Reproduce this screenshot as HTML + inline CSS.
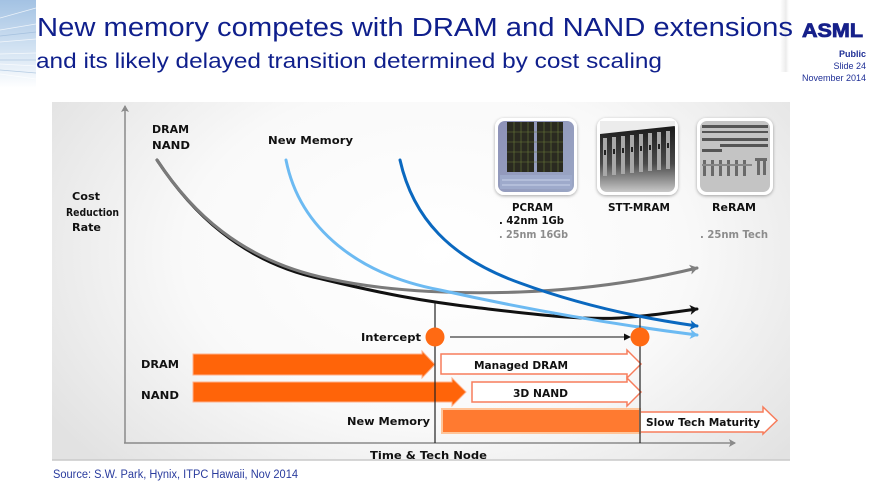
<!DOCTYPE html>
<html><head><meta charset="utf-8"><style>
html,body{margin:0;padding:0;background:#fff;}
svg{display:block;}
.v{font-family:"DejaVu Sans","Liberation Sans",sans-serif;font-weight:bold;fill:#111;}
</style></head><body>
<svg width="880" height="495" viewBox="0 0 880 495" xmlns="http://www.w3.org/2000/svg">
<defs>
<linearGradient id="deco" x1="0" y1="0" x2="0" y2="1">
<stop offset="0" stop-color="#a3c2e3"/><stop offset="0.55" stop-color="#d2e2f2"/><stop offset="1" stop-color="#ffffff"/></linearGradient>
<linearGradient id="shade" x1="0" y1="0" x2="1" y2="0">
<stop offset="0" stop-color="#e2e2e2" stop-opacity="0"/><stop offset="0.6" stop-color="#dedede" stop-opacity="0.6"/><stop offset="1" stop-color="#ffffff" stop-opacity="0"/></linearGradient>
<radialGradient id="panel" cx="0.52" cy="0.42" r="0.62" gradientTransform="translate(0.52 0.42) scale(1 1.4) translate(-0.52 -0.42)">
<stop offset="0" stop-color="#ffffff"/><stop offset="0.55" stop-color="#f9f9f9"/><stop offset="1" stop-color="#e2e2e2"/></radialGradient>
<linearGradient id="stt" x1="0" y1="0" x2="0" y2="1">
<stop offset="0" stop-color="#151515"/><stop offset="0.6" stop-color="#4a4a4a"/><stop offset="1" stop-color="#c8c8c8"/></linearGradient>
<linearGradient id="pc" x1="0" y1="0" x2="1" y2="1">
<stop offset="0" stop-color="#8e92b8"/><stop offset="1" stop-color="#9aa6c4"/></linearGradient>
<filter id="sh" x="-20%" y="-20%" width="140%" height="140%"><feDropShadow dx="0" dy="1" stdDeviation="1.5" flood-color="#000" flood-opacity="0.35"/></filter>
<marker id="mg" markerWidth="10" markerHeight="10" refX="7" refY="5" orient="auto" markerUnits="userSpaceOnUse"><path d="M0,0 L8,5 L0,10 L2,5 Z" fill="#808080"/></marker>
<marker id="mk" markerWidth="10" markerHeight="10" refX="7" refY="5" orient="auto" markerUnits="userSpaceOnUse"><path d="M0,0 L8,5 L0,10 L2,5 Z" fill="#111"/></marker>
<marker id="mb" markerWidth="10" markerHeight="10" refX="7" refY="5" orient="auto" markerUnits="userSpaceOnUse"><path d="M0,0 L8,5 L0,10 L2,5 Z" fill="#0a68bf"/></marker>
<marker id="ml" markerWidth="10" markerHeight="10" refX="7" refY="5" orient="auto" markerUnits="userSpaceOnUse"><path d="M0,0 L8,5 L0,10 L2,5 Z" fill="#6cbaf2"/></marker>
<marker id="ma" markerWidth="8" markerHeight="8" refX="6" refY="4" orient="auto" markerUnits="userSpaceOnUse"><path d="M0,0 L7,4 L0,8 L1.5,4 Z" fill="#8a8a8a"/></marker>
<marker id="mt" markerWidth="8" markerHeight="8" refX="6" refY="4" orient="auto" markerUnits="userSpaceOnUse"><path d="M0,0.5 L7,4 L0,7.5 Z" fill="#111"/></marker>
</defs>

<!-- top-left decoration -->
<rect x="0" y="0" width="36" height="88" fill="url(#deco)"/>
<g stroke="#ffffff" stroke-opacity="0.75" stroke-width="0.8" fill="none">
<line x1="0" y1="18" x2="36" y2="8"/>
<line x1="0" y1="30" x2="36" y2="24"/>
<line x1="0" y1="42" x2="36" y2="39"/>
<line x1="0" y1="54" x2="36" y2="53"/>
<line x1="0" y1="64" x2="36" y2="66"/>
<line x1="0" y1="74" x2="36" y2="79"/>
</g>
<g stroke="#8fb0d4" stroke-opacity="0.6" stroke-width="0.7" fill="none">
<line x1="0" y1="36" x2="36" y2="32"/>
<line x1="0" y1="60" x2="36" y2="60"/>
<line x1="0" y1="70" x2="36" y2="73"/>
</g>
<rect x="780" y="0" width="10" height="72" fill="url(#shade)"/>

<!-- titles -->
<text x="37" y="36" font-family="Liberation Sans, Arial, sans-serif" font-size="25.5" fill="#0f1f8c" textLength="756" lengthAdjust="spacingAndGlyphs">New memory competes with DRAM and NAND extensions</text>
<text x="36" y="68" font-family="Liberation Sans, Arial, sans-serif" font-size="21" fill="#0f1f8c" textLength="626" lengthAdjust="spacingAndGlyphs">and its likely delayed transition determined by cost scaling</text>
<text x="802" y="37" font-family="Liberation Sans, Arial, sans-serif" font-size="19" font-weight="bold" fill="#16208a" stroke="#16208a" stroke-width="0.8" textLength="61" lengthAdjust="spacingAndGlyphs">ASML</text>
<g font-family="Liberation Sans, Arial, sans-serif" font-size="9" fill="#1f2f96" text-anchor="end">
<text x="866" y="57" font-weight="bold">Public</text>
<text x="866" y="69">Slide 24</text>
<text x="866" y="81">November 2014</text>
</g>

<!-- panel -->
<rect x="52" y="102" width="738" height="358" fill="url(#panel)"/>
<line x1="52" y1="460" x2="790" y2="460" stroke="#c9c9c9" stroke-width="1.5"/>

<!-- axes -->
<line x1="125" y1="443" x2="125" y2="106" stroke="#8a8a8a" stroke-width="1.5" marker-end="url(#ma)"/>
<line x1="124" y1="443" x2="735" y2="443" stroke="#8a8a8a" stroke-width="1.5" marker-end="url(#ma)"/>

<!-- images -->
<g filter="url(#sh)">
<rect x="495" y="118" width="82" height="77" rx="9" fill="#fff"/>
<rect x="597" y="118" width="81" height="77" rx="9" fill="#fff"/>
<rect x="697" y="118" width="76" height="77" rx="9" fill="#fff"/>
</g>
<!-- PCRAM -->
<rect x="498" y="121" width="76" height="71" rx="7" fill="url(#pc)"/>
<rect x="507" y="122" width="27" height="50" fill="#2a2a20"/>
<rect x="537" y="122" width="26" height="50" fill="#2a2a20"/>
<g stroke="#6a7a3a" stroke-width="0.6">
<line x1="507" y1="132" x2="563" y2="132"/><line x1="507" y1="142" x2="563" y2="142"/><line x1="507" y1="152" x2="563" y2="152"/><line x1="507" y1="162" x2="563" y2="162"/>
<line x1="514" y1="122" x2="514" y2="172"/><line x1="521" y1="122" x2="521" y2="172"/><line x1="528" y1="122" x2="528" y2="172"/><line x1="544" y1="122" x2="544" y2="172"/><line x1="551" y1="122" x2="551" y2="172"/><line x1="558" y1="122" x2="558" y2="172"/>
</g>
<rect x="500" y="175" width="72" height="14" fill="#9eaacb"/>
<g stroke="#c8d2e8" stroke-width="1"><line x1="502" y1="180" x2="570" y2="180"/><line x1="502" y1="185" x2="570" y2="185"/></g>
<!-- STT-MRAM -->
<rect x="600" y="121" width="75" height="71" rx="7" fill="url(#stt)"/>
<path d="M600,121 L675,121 L675,126 L600,134 Z" fill="#ececec"/>
<g fill="#a8a8a8">
<rect x="603" y="138" width="4" height="38"/><rect x="612" y="137" width="4" height="38"/><rect x="621" y="136" width="4" height="38"/><rect x="630" y="135" width="4" height="38"/><rect x="639" y="134" width="4" height="38"/><rect x="648" y="133" width="4" height="38"/><rect x="657" y="132" width="4" height="38"/><rect x="666" y="131" width="4" height="38"/>
</g>
<g fill="#222"><rect x="604" y="150" width="2" height="5"/><rect x="613" y="149" width="2" height="5"/><rect x="622" y="148" width="2" height="5"/><rect x="631" y="147" width="2" height="5"/><rect x="640" y="146" width="2" height="5"/><rect x="649" y="145" width="2" height="5"/><rect x="658" y="144" width="2" height="5"/><rect x="667" y="143" width="2" height="5"/></g>
<!-- ReRAM -->
<rect x="700" y="121" width="70" height="71" rx="7" fill="#c4c4c4"/>
<g fill="#555">
<rect x="702" y="125" width="66" height="3"/><rect x="702" y="131" width="66" height="2"/><rect x="702" y="138" width="66" height="3"/><rect x="720" y="144" width="48" height="3"/><rect x="702" y="149" width="20" height="3"/>
</g>
<g fill="#6a6a6a">
<rect x="703" y="160" width="3" height="16"/><rect x="711" y="160" width="3" height="16"/><rect x="719" y="160" width="3" height="16"/><rect x="727" y="160" width="3" height="16"/><rect x="735" y="160" width="3" height="16"/><rect x="743" y="160" width="3" height="16"/><rect x="755" y="158" width="12" height="3"/><rect x="757" y="161" width="3" height="14"/><rect x="763" y="161" width="3" height="14"/>
</g>
<rect x="702" y="164" width="50" height="2" fill="#888"/>

<!-- curve labels -->
<text class="v" x="152" y="133" font-size="11" textLength="37" lengthAdjust="spacingAndGlyphs">DRAM</text>
<text class="v" x="152" y="149" font-size="11" textLength="38" lengthAdjust="spacingAndGlyphs">NAND</text>
<text class="v" x="268" y="144" font-size="11" textLength="85" lengthAdjust="spacingAndGlyphs">New Memory</text>
<text class="v" x="72" y="200" font-size="11" textLength="28" lengthAdjust="spacingAndGlyphs">Cost</text>
<text class="v" x="66" y="216" font-size="11" textLength="53" lengthAdjust="spacingAndGlyphs">Reduction</text>
<text class="v" x="72" y="231" font-size="11" textLength="29" lengthAdjust="spacingAndGlyphs">Rate</text>

<text class="v" x="512" y="211" font-size="10.5" textLength="41" lengthAdjust="spacingAndGlyphs">PCRAM</text>
<text class="v" x="499" y="224" font-size="10.5" textLength="65" lengthAdjust="spacingAndGlyphs">. 42nm 1Gb</text>
<text class="v" x="499" y="238" font-size="10.5" style="fill:#8c8c8c" textLength="69" lengthAdjust="spacingAndGlyphs">. 25nm 16Gb</text>
<text class="v" x="608" y="211" font-size="10.5" textLength="62" lengthAdjust="spacingAndGlyphs">STT-MRAM</text>
<text class="v" x="712" y="211" font-size="10.5" textLength="44" lengthAdjust="spacingAndGlyphs">ReRAM</text>
<text class="v" x="700" y="238" font-size="10.5" style="fill:#8c8c8c" textLength="68" lengthAdjust="spacingAndGlyphs">. 25nm Tech</text>

<!-- curves -->
<g fill="none" stroke-width="3" stroke-linecap="round">
<path d="M157,160 C190,210 240,262 322,279 C380,293 420,301 480,308 C540,315 580,320 620,318 C650,316 675,312 697,309" stroke="#111" marker-end="url(#mk)"/>
<path d="M157,160 C190,210 240,261 330,279 C390,292 460,294 520,292 C600,289 660,277 697,268" stroke="#7a7a7a" marker-end="url(#mg)"/>
<path d="M286,160 C300,230 360,275 440,290 C520,308 610,324 697,335" stroke="#6cbaf2" marker-end="url(#ml)"/>
<path d="M400,160 C413,218 450,258 520,283 C580,305 640,318 697,326" stroke="#0a68bf" marker-end="url(#mb)"/>
</g>

<!-- orange arrows -->
<polygon points="193,354 422,354 422,351 435,364.5 422,378 422,375 193,375" fill="#ff6409" stroke="#ffb08a" stroke-width="1"/>
<polygon points="193,382 452,382 452,378 466,392 452,406 452,402 193,402" fill="#ff6409" stroke="#ffb08a" stroke-width="1"/>
<polygon points="441,354 627,354 627,350 641,364 627,378 627,374 441,374" fill="#fff" stroke="#f77d5c" stroke-width="1.5"/>
<polygon points="472,382 627,382 627,378 641,392 627,406 627,402 472,402" fill="#fff" stroke="#f77d5c" stroke-width="1.5"/>
<polygon points="640,412 763,412 763,407 777,420.5 763,434 763,432 640,432" fill="#fff" stroke="#f77d5c" stroke-width="1.5"/>
<rect x="442" y="409" width="198" height="24" fill="#ff7a30" stroke="#ffc59a" stroke-width="2"/>

<!-- vertical lines & intercept -->
<line x1="435" y1="303" x2="435" y2="443" stroke="#222" stroke-width="1.2"/>
<line x1="640" y1="318" x2="640" y2="443" stroke="#222" stroke-width="1.2"/>
<line x1="450" y1="337" x2="630" y2="337" stroke="#111" stroke-width="1" marker-end="url(#mt)"/>
<circle cx="435" cy="337" r="9.5" fill="#ff6a13"/>
<circle cx="640" cy="337" r="9.5" fill="#ff6a13"/>

<!-- bottom labels -->
<text class="v" x="361" y="341" font-size="11" textLength="60" lengthAdjust="spacingAndGlyphs">Intercept</text>
<text class="v" x="141" y="368" font-size="11" textLength="38" lengthAdjust="spacingAndGlyphs">DRAM</text>
<text class="v" x="141" y="399" font-size="11" textLength="38" lengthAdjust="spacingAndGlyphs">NAND</text>
<text class="v" x="347" y="425" font-size="11" textLength="83" lengthAdjust="spacingAndGlyphs">New Memory</text>
<text class="v" x="474" y="369" font-size="11" textLength="94" lengthAdjust="spacingAndGlyphs">Managed DRAM</text>
<text class="v" x="513" y="397" font-size="11" textLength="55" lengthAdjust="spacingAndGlyphs">3D NAND</text>
<text class="v" x="646" y="426" font-size="11" textLength="114" lengthAdjust="spacingAndGlyphs">Slow Tech Maturity</text>
<text class="v" x="370" y="459" font-size="11" textLength="117" lengthAdjust="spacingAndGlyphs">Time &amp; Tech Node</text>

<!-- source -->
<text x="53" y="478" font-family="Liberation Sans, Arial, sans-serif" font-size="11.5" fill="#2a3c9e" textLength="245" lengthAdjust="spacingAndGlyphs">Source: S.W. Park, Hynix, ITPC Hawaii, Nov 2014</text>
</svg>
</body></html>
